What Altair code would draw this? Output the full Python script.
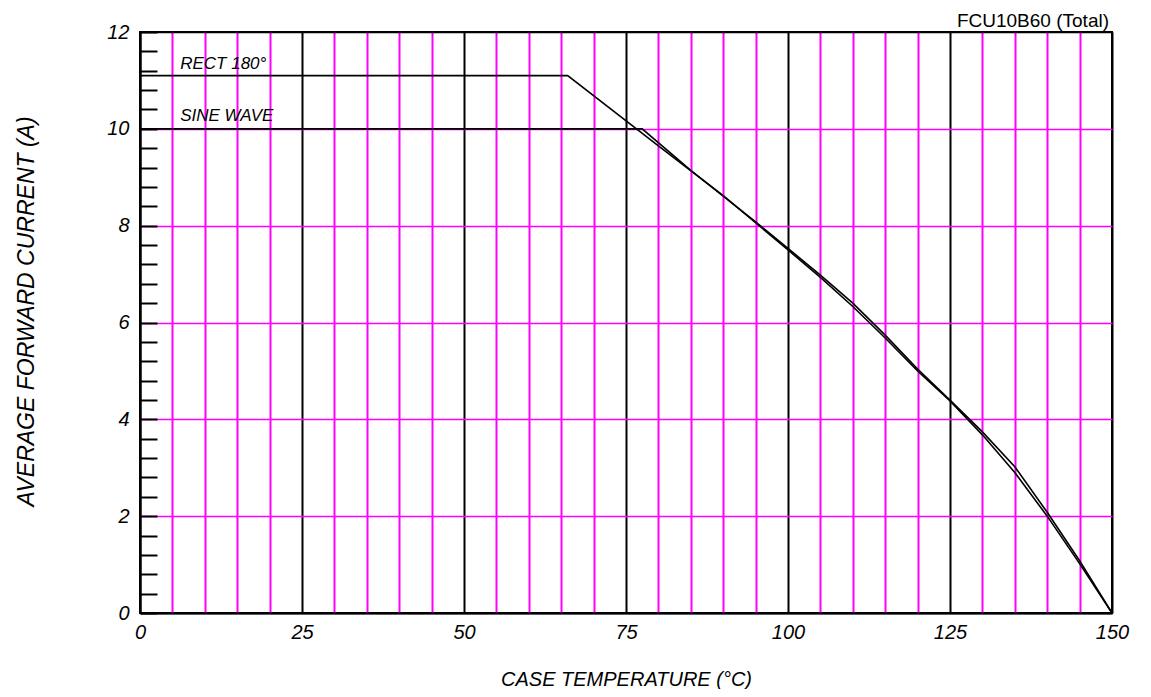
import altair as alt
import pandas as pd

# ---- data ----
rect_x = [0, 66, 80, 90, 100, 105, 110, 115, 120, 125, 130, 135, 140, 145, 150]
rect_y = [11.1, 11.1, 9.65, 8.62, 7.5, 6.93, 6.33, 5.68, 5.0, 4.38, 3.68, 2.9, 2.0, 1.02, 0]
sine_x = [0, 77.5, 85, 95, 105, 110, 115, 120, 125, 130, 135, 140, 145, 150]
sine_y = [10, 10, 9.14, 8.08, 6.98, 6.4, 5.74, 5.04, 4.4, 3.74, 3.02, 2.08, 1.08, 0]

label_text = ["RECT 180°", "SINE WAVE"]
label_x = [6.2, 6.2]
label_y = [11.23, 10.17]

x_grid_values = list(range(0, 151, 5))
y_label_values = [0, 2, 4, 6, 8, 10, 12]
y_minor_ticks = [round(i * 0.4, 1) for i in range(0, 31)]

FONT = "Liberation Sans"

rows = [{"series": "RECT 180°", "t": x, "i": y} for x, y in zip(rect_x, rect_y)]
rows += [{"series": "SINE WAVE", "t": x, "i": y} for x, y in zip(sine_x, sine_y)]
df = pd.DataFrame(rows)
lab = pd.DataFrame({"text": label_text, "t": label_x, "i": label_y})
minor = pd.DataFrame({"i": y_minor_ticks})

xscale = alt.Scale(domain=[0, 150], nice=False, zero=False)
yscale = alt.Scale(domain=[0, 12], nice=False, zero=False)

x_axis = alt.Axis(
    orient="bottom",
    values=x_grid_values,
    labelExpr="datum.value % 25 == 0 ? datum.label : ''",
    grid=True,
    gridColor=alt.condition("datum.value % 25 == 0", alt.value("#000000"), alt.value("#ff00ff")),
    gridWidth=2,
    gridOpacity=1,
    ticks=False,
    tickSize=0,
    domainColor="#000000",
    domainWidth=2,
    labelPadding=9,
    labelFlush=False,
    title="CASE TEMPERATURE (°C)",
    titleFontSize=20,
    titleBaseline="alphabetic",
    titleY=72,
)

y_axis = alt.Axis(
    orient="left",
    values=y_label_values,
    grid=True,
    gridColor=alt.condition("datum.value == 0 || datum.value == 12", alt.value("#000000"), alt.value("#ff00ff")),
    gridWidth=1.6,
    gridOpacity=1,
    ticks=False,
    tickSize=0,
    domainColor="#000000",
    domainWidth=2,
    labelPadding=11,
    labelFlush=False,
    title="AVERAGE FORWARD CURRENT (A)",
    titleFontSize=23,
    titleAngle=270,
    titleBaseline="alphabetic",
    titleX=-107,
    titleY=279,
)

lines = alt.Chart(df).mark_line(color="#000000", strokeWidth=1.6).encode(
    x=alt.X("t:Q", scale=xscale, axis=x_axis),
    y=alt.Y("i:Q", scale=yscale, axis=y_axis),
    detail="series:N",
)

minor_layer = alt.Chart(minor).mark_point(opacity=0).encode(
    y=alt.Y(
        "i:Q",
        scale=yscale,
        axis=alt.Axis(
            orient="left",
            values=y_minor_ticks,
            offset=-17,
            tickSize=17,
            tickWidth=2,
            tickColor="#000000",
            labels=False,
            domain=False,
            grid=False,
            title=None,
        ),
    ),
)

labels = alt.Chart(lab).mark_text(
    align="left", baseline="alphabetic", font=FONT, fontSize=17, fontStyle="italic", color="#000000"
).encode(
    x=alt.X("t:Q", scale=xscale, axis=None),
    y=alt.Y("i:Q", scale=yscale, axis=None),
    text="text:N",
)

chart = (
    alt.layer(lines, minor_layer, labels)
    .resolve_axis(x="independent", y="independent")
    .properties(
        width=972,
        height=581,
        background="white",
        autosize=alt.AutoSizeParams(type="none"),
        padding={"left": 132, "top": 24, "right": 31, "bottom": 76},
        title=alt.TitleParams(
            "FCU10B60 (Total)",
            anchor="end",
            frame="group",
            baseline="bottom",
            font=FONT,
            fontSize=19,
            fontWeight="normal",
            color="#000000",
            offset=-14,
            dx=-3,
            dy=14,
        ),
    )
    .configure_axis(
        labelFont=FONT,
        labelFontSize=20,
        labelFontStyle="italic",
        labelColor="#000000",
        titleFont=FONT,
        titleFontStyle="italic",
        titleFontWeight="normal",
        titleColor="#000000",
    )
    .configure_view(stroke="#000000", strokeWidth=2)
)

chart.save("out.html", embed_options={"renderer": "svg", "actions": False})
